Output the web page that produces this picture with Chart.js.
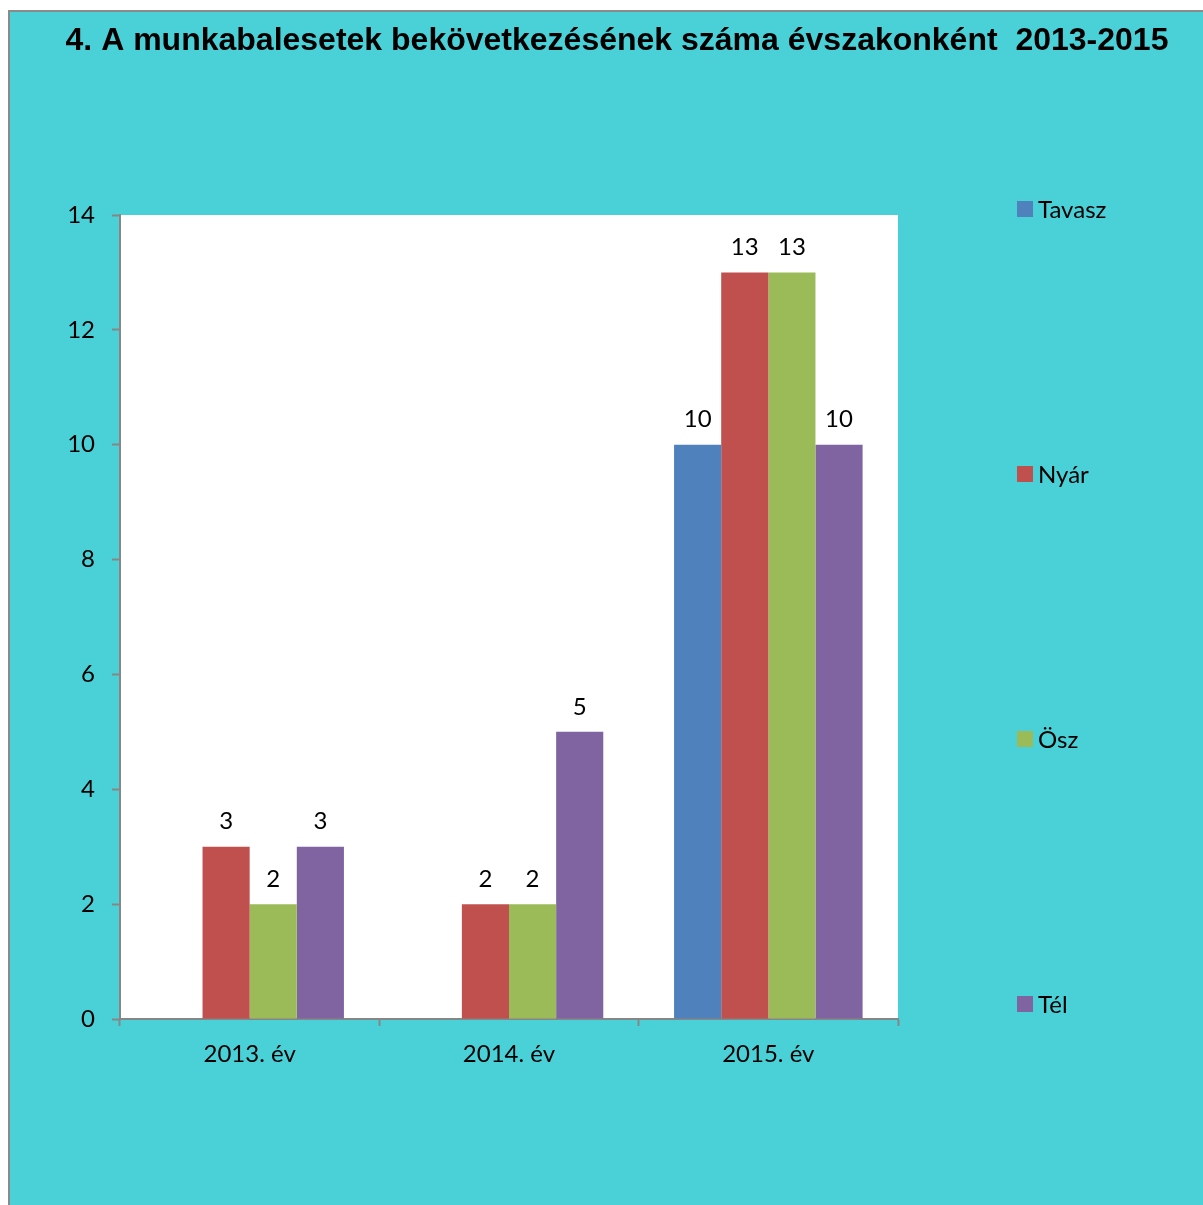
<!DOCTYPE html>
<html>
<head>
<meta charset="utf-8">
<script src="https://cdn.jsdelivr.net/npm/chart.js@4.4.1/dist/chart.umd.min.js"></script>
<style>
  html, body { margin: 0; padding: 0; background: #ffffff; }
  canvas { display: block; }
</style>
</head>
<body>
<canvas id="chart" width="1203" height="1205"></canvas>
<script>
const categories = ['2013. év', '2014. év', '2015. év'];
const seriesNames = ['Tavasz', 'Nyár', 'Ösz', 'Tél'];
const tavasz = [0, 0, 10];
const nyar = [3, 2, 13];
const osz = [2, 2, 13];
const tel = [3, 5, 10];
const yTicks = [0, 2, 4, 6, 8, 10, 12, 14];

const seriesColors = ['#4F81BD', '#C0504D', '#9BBB59', '#8064A2'];
const BG = '#4AD1D8';
const AXIS = '#868686';
const LABEL_FONT = 'Lato, "Open Sans", sans-serif';
const TITLE = '4. A munkabalesetek bekövetkezésének száma évszakonként  2013-2015';

const backgroundPlugin = {
  id: 'background',
  beforeDraw(chart) {
    const { ctx, width, height, chartArea } = chart;
    ctx.save();
    ctx.fillStyle = '#ffffff';
    ctx.fillRect(0, 0, width, height);
    ctx.fillStyle = BG;
    ctx.fillRect(9, 11, width - 9, height - 11);
    ctx.strokeStyle = '#8a8a8a';
    ctx.lineWidth = 2;
    ctx.beginPath();
    ctx.moveTo(9, height);
    ctx.lineTo(9, 11);
    ctx.lineTo(width, 11);
    ctx.stroke();
    ctx.fillStyle = '#ffffff';
    ctx.fillRect(chartArea.left, chartArea.top, chartArea.right - chartArea.left, chartArea.bottom - chartArea.top);
    ctx.restore();
  },
  afterDraw(chart) {
    const { ctx, chartArea } = chart;
    ctx.save();
    // title
    ctx.fillStyle = '#000000';
    ctx.font = 'bold 32px "Liberation Sans", Arial, sans-serif';
    ctx.textAlign = 'center';
    ctx.textBaseline = 'middle';
    ctx.fillText(TITLE, 617, 41);

    // legend spread down the right side
    const items = chart.data.datasets;
    const top = chartArea.top - 6;
    const bottom = chartArea.bottom - 15;
    const step = (bottom - top) / (items.length - 1);
    ctx.font = '24px ' + LABEL_FONT;
    ctx.textAlign = 'left';
    items.forEach((ds, i) => {
      const y = top + i * step;
      ctx.fillStyle = ds.backgroundColor;
      ctx.fillRect(1017, y - 8, 16, 16);
      ctx.fillStyle = '#000000';
      ctx.fillText(ds.label, 1038, y + 1);
    });
    ctx.restore();
  },
  afterDatasetsDraw(chart) {
    const { ctx } = chart;
    ctx.save();
    ctx.fillStyle = '#000000';
    ctx.font = '24px ' + LABEL_FONT;
    ctx.textAlign = 'center';
    ctx.textBaseline = 'middle';
    chart.data.datasets.forEach((ds, i) => {
      const meta = chart.getDatasetMeta(i);
      meta.data.forEach((bar, j) => {
        const v = ds.data[j];
        if (!v) return;
        ctx.fillText(String(v), bar.x, bar.y - 25);
      });
    });
    ctx.restore();
  }
};

const datasets = [tavasz, nyar, osz, tel].map((data, i) => ({
  label: seriesNames[i],
  data,
  backgroundColor: seriesColors[i],
  borderWidth: 0,
  barPercentage: 1,
  categoryPercentage: 0.727
}));

new Chart(document.getElementById('chart'), {
  type: 'bar',
  data: { labels: categories, datasets },
  options: {
    responsive: false,
    animation: false,
    layout: { padding: { top: 215, right: 305, left: 0, bottom: 0 } },
    plugins: {
      legend: { display: false },
      title: { display: false },
      tooltip: { enabled: false }
    },
    scales: {
      x: {
        offset: true,
        grid: {
          offset: true,
          drawOnChartArea: false,
          color: AXIS,
          tickLength: 7,
          tickWidth: 2
        },
        border: { color: AXIS, width: 2 },
        ticks: {
          color: '#000000',
          padding: 14,
          font: { family: LABEL_FONT, size: 24 }
        },
        afterFit(scale) { scale.height = 186; }
      },
      y: {
        min: 0,
        max: 14,
        afterBuildTicks(scale) { scale.ticks = yTicks.map(v => ({ value: v })); },
        grid: {
          drawOnChartArea: false,
          color: AXIS,
          tickLength: 8,
          tickWidth: 2
        },
        border: { color: AXIS, width: 2 },
        ticks: {
          color: '#000000',
          padding: 17,
          font: { family: LABEL_FONT, size: 24 }
        },
        afterFit(scale) { scale.width = 120; }
      }
    }
  },
  plugins: [backgroundPlugin]
});
</script>
</body>
</html>
